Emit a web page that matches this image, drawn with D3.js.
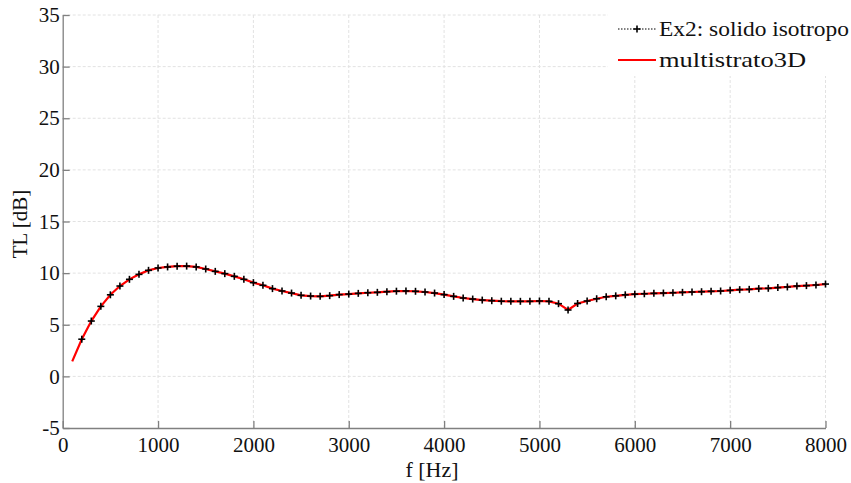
<!DOCTYPE html>
<html>
<head>
<meta charset="utf-8">
<script src="https://cdn.jsdelivr.net/npm/d3@7"></script>
<style>
  html, body { margin: 0; padding: 0; background: #fff; }
  svg { display: block; }
  text { font-family: "Liberation Serif", "DejaVu Serif", serif; fill: #111; }
</style>
</head>
<body>
<svg id="chart" width="851" height="483"></svg>
<script>
// Transmission loss vs frequency, two models
const freqEx2 = d3.range(200, 8001, 100);
const tlEx2 = [
  3.6, 5.36, 6.78, 7.9, 8.75, 9.4, 9.88, 10.27, 10.5,          // 200-1000
  10.6, 10.67, 10.68, 10.6, 10.4, 10.17, 9.95, 9.69, 9.4, 9.08, // 1100-2000
  8.82, 8.5, 8.27, 8.07, 7.85, 7.78, 7.75, 7.82, 7.92, 7.97,    // 2100-3000
  8.04, 8.1, 8.14, 8.2, 8.25, 8.27, 8.24, 8.17, 8.07, 7.92,     // 3100-4000
  7.75, 7.59, 7.49, 7.39, 7.33, 7.28, 7.27, 7.27, 7.27, 7.3,    // 4100-5000
  7.27, 7.04, 6.43, 7.06, 7.3, 7.52, 7.71, 7.8, 7.9, 7.96,      // 5100-6000
  8.0, 8.04, 8.07, 8.1, 8.14, 8.17, 8.2, 8.24, 8.27, 8.33,      // 6100-7000
  8.4, 8.43, 8.5, 8.53, 8.6, 8.66, 8.75, 8.79, 8.85, 8.94       // 7100-8000
];
const freqMulti = d3.range(100, 8001, 100);
const tlMulti = [1.45].concat(tlEx2);

const xTicks = [0, 1000, 2000, 3000, 4000, 5000, 6000, 7000, 8000];
const yTicks = [-5, 0, 5, 10, 15, 20, 25, 30, 35];
const seriesNames = ["Ex2: solido isotropo", "multistrato3D"];
const xLabel = "f [Hz]";
const yLabel = "TL [dB]";

const svg = d3.select("#chart");
const plotLeft = 62.7, plotRight = 825.5, plotTop = 15, plotBottom = 428;

const x = d3.scaleLinear().domain([0, 8000]).range([plotLeft, plotRight]);
const y = d3.scaleLinear().domain([-5, 35]).range([plotBottom, plotTop]);
const plain = d => String(d);

// grid
const grid = svg.append("g").attr("stroke", "#e2e2e2").attr("stroke-width", 1)
  .attr("stroke-dasharray", "3,2");
grid.selectAll("line.gx").data(xTicks.slice(1)).join("line")
  .attr("x1", d => x(d)).attr("x2", d => x(d)).attr("y1", plotTop).attr("y2", plotBottom);
grid.selectAll("line.gy").data(yTicks.slice(1)).join("line")
  .attr("x1", plotLeft).attr("x2", plotRight).attr("y1", d => y(d)).attr("y2", d => y(d));

// axes with inward ticks
const axisColor = "#808080";
const xAxis = svg.append("g").attr("transform", `translate(0,${plotBottom})`)
  .call(d3.axisBottom(x).tickValues(xTicks).tickFormat(plain)
    .tickSizeInner(-7).tickSizeOuter(0).tickPadding(9));
const yAxis = svg.append("g").attr("transform", `translate(${plotLeft},0)`)
  .call(d3.axisLeft(y).tickValues(yTicks).tickFormat(plain)
    .tickSizeInner(-7).tickSizeOuter(0).tickPadding(3));
[xAxis, yAxis].forEach(a => {
  a.select(".domain").attr("stroke", axisColor).attr("stroke-width", 1.3);
  a.selectAll(".tick line").attr("stroke", axisColor).attr("stroke-width", 1.3);
  a.selectAll(".tick text").attr("font-family", "Liberation Serif, serif")
    .attr("font-size", 21).attr("fill", "#111");
});

// axis titles
svg.append("text").attr("x", 432).attr("y", 477)
  .attr("text-anchor", "middle").attr("font-size", 22).text(xLabel);
svg.append("text").attr("transform", "translate(27,224) rotate(-90)")
  .attr("text-anchor", "middle").attr("font-size", 21).text(yLabel);

const line = d3.line().x(d => x(d[0])).y(d => y(d[1]));
const ex2 = freqEx2.map((f, i) => [f, tlEx2[i]]);
const multi = freqMulti.map((f, i) => [f, tlMulti[i]]);

// Ex2: dotted black line with plus markers
svg.append("path").datum(ex2).attr("d", line).attr("fill", "none")
  .attr("stroke", "#000").attr("stroke-width", 1).attr("stroke-dasharray", "1.5,1.5");
// multistrato3D: solid red line
svg.append("path").datum(multi).attr("d", line).attr("fill", "none")
  .attr("stroke", "#ff0000").attr("stroke-width", 2.2);

const s = 3.5;
const markers = svg.append("g").attr("stroke", "#000").attr("stroke-width", 1.6);
markers.selectAll("g").data(ex2).join("g")
  .attr("transform", d => `translate(${x(d[0])},${y(d[1])})`)
  .each(function() {
    const g = d3.select(this);
    g.append("line").attr("x1", -s).attr("x2", s).attr("y1", 0).attr("y2", 0);
    g.append("line").attr("x1", 0).attr("x2", 0).attr("y1", -s).attr("y2", s);
  });

// legend
const lg = svg.append("g");
lg.append("rect").attr("x", 608).attr("y", 0).attr("width", 243).attr("height", 76).attr("fill", "#fff");
const rows = [29, 60];
lg.append("line").attr("x1", 618).attr("x2", 656).attr("y1", rows[0]).attr("y2", rows[0])
  .attr("stroke", "#000").attr("stroke-width", 1).attr("stroke-dasharray", "1.5,1.5");
lg.append("line").attr("x1", 637 - s).attr("x2", 637 + s).attr("y1", rows[0]).attr("y2", rows[0])
  .attr("stroke", "#000").attr("stroke-width", 1.6);
lg.append("line").attr("x1", 637).attr("x2", 637).attr("y1", rows[0] - s).attr("y2", rows[0] + s)
  .attr("stroke", "#000").attr("stroke-width", 1.6);
lg.append("line").attr("x1", 618).attr("x2", 656).attr("y1", rows[1]).attr("y2", rows[1])
  .attr("stroke", "#ff0000").attr("stroke-width", 2.2);
const legendWidths = [190, 147];
lg.selectAll("text.lt").data(seriesNames).join("text")
  .attr("x", 659).attr("y", (d, i) => rows[i] + 7).attr("font-size", 22)
  .attr("textLength", (d, i) => legendWidths[i]).attr("lengthAdjust", "spacingAndGlyphs")
  .text(d => d);
</script>
</body>
</html>
